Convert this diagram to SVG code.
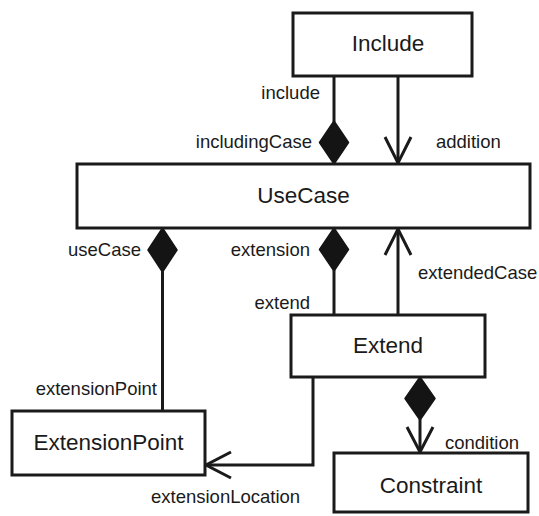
<svg xmlns="http://www.w3.org/2000/svg" width="539" height="516" viewBox="0 0 539 516">
  <style>
    .box { fill: #fff; stroke: #1a1a1a; stroke-width: 3; }
    .name { font-family: "Liberation Sans", Arial, sans-serif; font-size: 22.5px; fill: #1a1a1a; text-anchor: middle; }
    .role { font-family: "Liberation Sans", Arial, sans-serif; font-size: 18.5px; fill: #1a1a1a; }
    .end { text-anchor: end; }
    .line { fill: none; stroke: #1a1a1a; stroke-width: 3; }
    .dia { fill: #141414; stroke: #141414; stroke-width: 1.5; stroke-linejoin: round; }
    .open { fill: none; stroke: #1a1a1a; stroke-width: 3; }
  </style>

  <!-- associations -->
  <g id="connectors">
    <!-- Include.include / includingCase (composite at UseCase) -->
    <line class="line" x1="334" y1="76" x2="334" y2="122"/>
    <polygon class="dia" points="334,121 348.5,142.5 334,164 319.5,142.5"/>
    <!-- Include.addition -> UseCase -->
    <line class="line" x1="398" y1="76" x2="398" y2="163"/>
    <polyline class="open" points="385,137 398,163 411,137"/>

    <!-- UseCase.useCase / ExtensionPoint.extensionPoint -->
    <polygon class="dia" points="162.5,228 177,250 162.5,272 148,250"/>
    <line class="line" x1="162.5" y1="271" x2="162.5" y2="411"/>

    <!-- UseCase.extension / Extend.extend -->
    <polygon class="dia" points="334,228 348.5,249.5 334,271 319.5,249.5"/>
    <line class="line" x1="334" y1="270" x2="334" y2="315"/>

    <!-- Extend.extendedCase -> UseCase -->
    <line class="line" x1="398" y1="315" x2="398" y2="229"/>
    <polyline class="open" points="385,255 398,229 411,255"/>

    <!-- Extend.extensionLocation -> ExtensionPoint -->
    <polyline class="line" points="313,377 313,465 206,465"/>
    <polyline class="open" points="231,452 206,465 231,478"/>

    <!-- Extend.condition -> Constraint -->
    <polygon class="dia" points="420,377 435,398.5 420,420 405,398.5"/>
    <line class="line" x1="420" y1="419" x2="420" y2="452"/>
    <polyline class="open" points="407,427 420,452 433,427"/>
  </g>

  <!-- role names -->
  <g id="roles">
    <text class="role end" x="320" y="99">include</text>
    <text class="role end" x="312" y="148">includingCase</text>
    <text class="role" x="436" y="148">addition</text>
    <text class="role end" x="141" y="256">useCase</text>
    <text class="role end" x="310" y="256">extension</text>
    <text class="role" x="418" y="279">extendedCase</text>
    <text class="role end" x="310" y="309">extend</text>
    <text class="role end" x="157" y="395">extensionPoint</text>
    <text class="role" x="151" y="503">extensionLocation</text>
    <text class="role" x="445" y="449">condition</text>
  </g>

  <g id="Include">
    <rect class="box" x="293" y="13" width="179" height="63"/>
    <text class="name" x="388" y="51">Include</text>
  </g>

  <g id="UseCase">
    <rect class="box" x="77" y="164" width="453" height="64"/>
    <text class="name" x="303.5" y="203">UseCase</text>
  </g>

  <g id="Extend">
    <rect class="box" x="291" y="315" width="194" height="62"/>
    <text class="name" x="388" y="353">Extend</text>
  </g>

  <g id="ExtensionPoint">
    <rect class="box" x="12" y="411" width="193" height="64"/>
    <text class="name" x="108.5" y="450">ExtensionPoint</text>
  </g>

  <g id="Constraint">
    <rect class="box" x="334" y="453" width="194" height="59"/>
    <text class="name" x="431" y="493">Constraint</text>
  </g>
</svg>
